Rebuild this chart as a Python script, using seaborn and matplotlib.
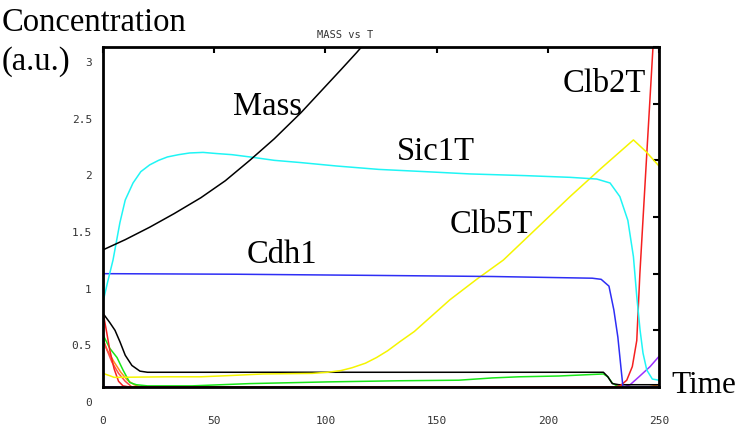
import matplotlib
matplotlib.use("Agg")
import matplotlib.pyplot as plt
import matplotlib.transforms as mtransforms
import pandas as pd
import seaborn as sns

# values (time, concentration a.u.)
t_mass = [0, 10, 21, 32, 44, 55, 66, 77, 89, 98, 107, 114, 118, 122]
mass = [1.21, 1.30, 1.41, 1.53, 1.67, 1.82, 2.00, 2.19, 2.42, 2.61, 2.80, 2.95, 3.04, 3.13]

t_sic1 = [0, 2, 4.5, 7.6, 10, 13.5, 17, 21, 25, 29, 34, 39, 45, 51, 58, 66, 77, 89,
          105, 124, 145, 165, 190, 210, 222, 228, 232.4, 236, 238.5, 240, 241.5,
          242.8, 244.5, 247, 250]
sic1 = [0.75, 0.92, 1.12, 1.45, 1.65, 1.80, 1.90, 1.96, 2.00, 2.03, 2.05, 2.065, 2.07,
        2.06, 2.05, 2.03, 2.00, 1.98, 1.95, 1.92, 1.90, 1.88, 1.865, 1.85, 1.835, 1.80,
        1.68, 1.47, 1.15, 0.80, 0.50, 0.30, 0.15, 0.07, 0.06]

t_cdh1 = [0, 0.5, 60, 120, 175, 220, 224, 227.5, 229.7, 231.5, 233, 233.8, 250]
cdh1 = [0.97, 1.0, 0.995, 0.985, 0.975, 0.96, 0.95, 0.89, 0.68, 0.44, 0.15, 0.0, 0.0]

t_clb5 = [0, 3, 5, 29, 44, 56, 72, 94, 101, 107, 112, 118, 123, 128, 133.5, 140,
          145.7, 156, 168, 180, 195, 210, 224, 238.5, 244, 250]
clb5 = [0.12, 0.10, 0.085, 0.09, 0.09, 0.10, 0.115, 0.12, 0.13, 0.145, 0.17, 0.21,
        0.26, 0.32, 0.40, 0.49, 0.59, 0.77, 0.95, 1.12, 1.40, 1.68, 1.93, 2.18, 2.08, 1.95]

t_clb2 = [0, 1.5, 3, 5, 7, 9, 12, 230, 232.5, 235.5, 238, 240, 241.4, 244.6, 247.3, 248.5]
clb2 = [0.66, 0.50, 0.33, 0.16, 0.05, 0.01, 0.0, 0.0, 0.01, 0.06, 0.18, 0.41, 1.0,
        2.09, 3.0, 3.4]

t_red_light = [0, 1.3, 4, 7, 10, 13, 250]
red_light = [0.42, 0.35, 0.22, 0.12, 0.05, 0.0, 0.0]

t_orange = [0, 1.8, 5, 8, 11, 14, 17, 245, 250]
orange = [0.42, 0.33, 0.22, 0.13, 0.06, 0.02, 0.0, 0.0, 0.02]

t_green = [0, 3.1, 6.3, 9, 12, 15, 20, 40, 66, 101, 133, 160, 175, 187, 205, 225,
           227, 229, 231, 235, 250]
green = [0.46, 0.34, 0.26, 0.15, 0.04, 0.02, 0.01, 0.01, 0.03, 0.045, 0.055, 0.06,
         0.08, 0.09, 0.097, 0.115, 0.09, 0.035, 0.01, 0.0, 0.0]

t_black_low = [0, 3, 5.4, 7.6, 10, 13, 16.6, 20, 225, 227, 229, 232, 250]
black_low = [0.65, 0.57, 0.50, 0.40, 0.28, 0.19, 0.14, 0.13, 0.13, 0.09, 0.03, 0.02, 0.02]

t_purple = [0, 234, 237, 241, 246, 250]
purple = [0.0, 0.0, 0.02, 0.09, 0.18, 0.27]

series = [
    ("purple", t_purple, purple),
    ("orange", t_orange, orange),
    ("green", t_green, green),
    ("black_low", t_black_low, black_low),
    ("red_light", t_red_light, red_light),
    ("Clb2T", t_clb2, clb2),
    ("Clb5T", t_clb5, clb5),
    ("Cdh1", t_cdh1, cdh1),
    ("Sic1T", t_sic1, sic1),
    ("Mass", t_mass, mass),
]
palette = {
    "Mass": "#000000",
    "Sic1T": "#1FF5F5",
    "Cdh1": "#2E2EF5",
    "Clb5T": "#F5F500",
    "Clb2T": "#F52020",
    "red_light": "#FF4A4A",
    "orange": "#FF8C1A",
    "green": "#19E619",
    "black_low": "#000000",
    "purple": "#9B30FF",
}

frames = [pd.DataFrame({"t": t, "value": v, "species": name}) for name, t, v in series]
df = pd.concat(frames, ignore_index=True)

sns.set_style("white")
plt.rcParams["font.family"] = ["DejaVu Sans"]

fig = plt.figure(figsize=(7.4, 4.3), dpi=100)
ax = fig.add_axes([103 / 740, 1 - 387 / 430, 556 / 740, 340 / 430])

sns.lineplot(data=df, x="t", y="value", hue="species", palette=palette,
             hue_order=[s[0] for s in series], estimator=None, sort=False,
             linewidth=1.1, legend=False, ax=ax)

ax.set_xlim(0, 250)
ax.set_ylim(0, 3)
ax.set_xlabel("")
ax.set_ylabel("")
ax.set_xticks([0, 50, 100, 150, 200, 250])
ax.set_yticks([0, 0.5, 1, 1.5, 2, 2.5, 3])
ax.set_yticklabels(["0", "0.5", "1", "1.5", "2", "2.5", "3"])
ax.tick_params(direction="in", length=4, width=1.5, top=True, right=True,
               labelsize=8, labelcolor="#333333", color="black")
ax.tick_params(axis="x", pad=21)
ax.tick_params(axis="y", pad=8)
for lab in ax.get_xticklabels() + ax.get_yticklabels():
    lab.set_family("DejaVu Sans Mono")
# the y labels sit a little below their ticks in the reference
offset = mtransforms.ScaledTranslation(0, -0.15, fig.dpi_scale_trans)
for lab in ax.get_yticklabels():
    lab.set_transform(lab.get_transform() + offset)

for side in ax.spines.values():
    side.set_visible(True)
    side.set_color("black")
    side.set_linewidth(2)

big = dict(family="Liberation Serif", fontsize=23.5, color="black")
ax.text(58.5, 2.40, "Mass", ha="left", va="baseline", **big)
ax.text(132, 2.0, "Sic1T", ha="left", va="baseline", **big)
ax.text(206.5, 2.60, "Clb2T", ha="left", va="baseline", **big)
ax.text(156, 1.36, "Clb5T", ha="left", va="baseline", **big)
ax.text(64.5, 1.09, "Cdh1", ha="left", va="baseline", **big)

fig.text(2 / 740, 1 - 31 / 430, "Concentration", ha="left", va="baseline", **big)
fig.text(2 / 740, 1 - 70 / 430, "(a.u.)", ha="left", va="baseline", **big)
fig.text(671 / 740, 1 - 393 / 430, "Time", ha="left", va="baseline",
         family="Liberation Serif", fontsize=22.5, color="black")
fig.text(345 / 740, 1 - 35 / 430, "MASS vs T", ha="center", va="center",
         family="DejaVu Sans Mono", fontsize=7.5, color="#333333")

fig.savefig("out.png", dpi=100)
plt.close(fig)
